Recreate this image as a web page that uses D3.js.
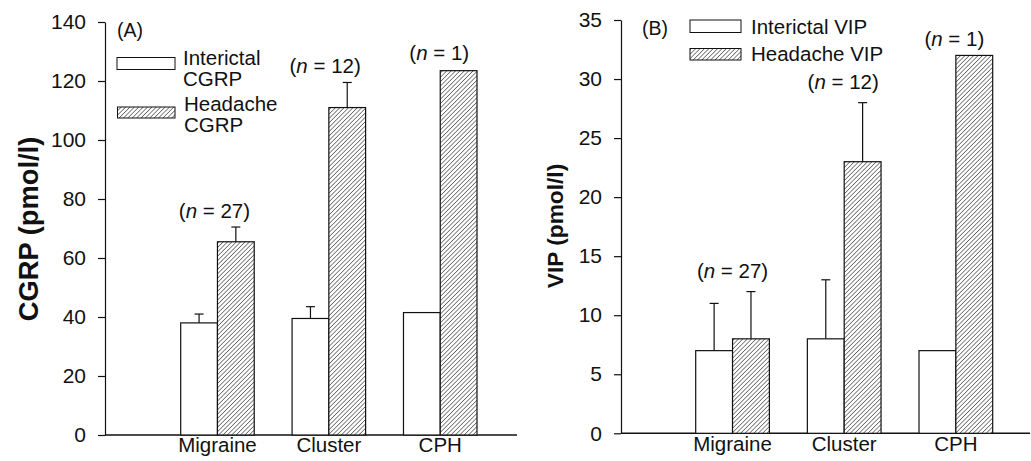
<!DOCTYPE html>
<html>
<head>
<meta charset="utf-8">
<script src="https://cdn.jsdelivr.net/npm/d3@7"></script>
<style>
  body { margin: 0; background: #fff; }
  svg { font-family: 'Liberation Sans', Arial, sans-serif; }
</style>
</head>
<body>
<svg id="chart" width="1031" height="461"></svg>
<script>
const categories = ['Migraine', 'Cluster', 'CPH']
const nLabels = ['27', '12', '1']

// panel A - CGRP
const cgrpInterictal = [38, 39.5, 41.5]
const cgrpInterictalTop = [41, 43.5, null]
const cgrpHeadache = [65.5, 111, 123.5]
const cgrpHeadacheTop = [70.5, 119.5, null]
const cgrpTicks = [0, 20, 40, 60, 80, 100, 120, 140]

// panel B - VIP
const vipInterictal = [7, 8, 7]
const vipInterictalTop = [11, 13, null]
const vipHeadache = [8, 23, 32]
const vipHeadacheTop = [12, 28, null]
const vipTicks = [0, 5, 10, 15, 20, 25, 30, 35]

const svg = d3.select('#chart')

// hatch pattern
svg.append('defs').append('pattern')
  .attr('id', 'hatch')
  .attr('patternUnits', 'userSpaceOnUse')
  .attr('width', 3.1).attr('height', 3.1)
  .attr('patternTransform', 'rotate(45)')
  .call(p => {
    p.append('rect').attr('width', 3.1).attr('height', 3.1).attr('fill', '#fff')
    p.append('line').attr('x1', 0).attr('y1', 0).attr('x2', 0).attr('y2', 3.1)
      .attr('stroke', '#222').attr('stroke-width', 1.1)
  })

function drawPanel(opt) {
  const g = svg.append('g').attr('transform', `translate(${opt.left},0)`)

  const y = d3.scaleLinear().domain([0, opt.max]).range([opt.y0, opt.yTop])
  const x = d3.scaleBand().domain(categories)
    .range([opt.barStart, opt.barEnd]).paddingInner(0.34).paddingOuter(0)
  const xs = d3.scaleBand().domain(['inter', 'head']).range([0, x.bandwidth()])

  // y axis
  g.append('g')
    .call(d3.axisLeft(y).tickValues(opt.ticks).tickSize(7).tickSizeOuter(0).tickPadding(12))
    .call(a => a.select('.domain').attr('stroke', '#111').attr('stroke-width', 1.2))
    .call(a => a.selectAll('.tick line').attr('stroke', '#111').attr('stroke-width', 1.2))
    .call(a => a.selectAll('text').attr('font-size', 21).attr('fill', '#111')
      .attr('font-family', "'Liberation Sans', Arial, sans-serif"))

  // x axis line
  g.append('line')
    .attr('x1', 0).attr('x2', opt.xEnd)
    .attr('y1', y(0)).attr('y2', y(0))
    .attr('stroke', '#111').attr('stroke-width', 1.4)

  const series = [
    { key: 'inter', vals: opt.inter, tops: opt.interTop, fill: '#fff' },
    { key: 'head', vals: opt.head, tops: opt.headTop, fill: 'url(#hatch)' }
  ]

  series.forEach(s => {
    categories.forEach((c, i) => {
      const bx = x(c) + xs(s.key)
      const w = xs.bandwidth()
      if (s.tops[i] != null) {
        const cx = bx + w / 2
        g.append('line').attr('x1', cx).attr('x2', cx)
          .attr('y1', y(s.vals[i])).attr('y2', y(s.tops[i]))
          .attr('stroke', '#111').attr('stroke-width', 1.2)
        g.append('line').attr('x1', cx - 4.5).attr('x2', cx + 4.5)
          .attr('y1', y(s.tops[i])).attr('y2', y(s.tops[i]))
          .attr('stroke', '#111').attr('stroke-width', 1.2)
      }
      g.append('rect')
        .attr('x', bx).attr('y', y(s.vals[i]))
        .attr('width', w).attr('height', y(0) - y(s.vals[i]))
        .attr('fill', s.fill)
        .attr('stroke', '#111').attr('stroke-width', 1.2)
    })
  })

  // category labels
  g.selectAll('.cat').data(categories).join('text')
    .attr('x', d => x(d) + x.bandwidth() / 2)
    .attr('y', opt.catY)
    .attr('text-anchor', 'middle')
    .attr('font-size', 20.5).attr('fill', '#111')
    .text(d => d)

  // n labels
  categories.forEach((c, i) => {
    const t = g.append('text')
      .attr('x', x(c) + x.bandwidth() / 2 + opt.nShift[i])
      .attr('y', opt.nY[i])
      .attr('text-anchor', 'middle')
      .attr('font-size', 20.5).attr('fill', '#111')
    t.append('tspan').text('(')
    t.append('tspan').attr('font-style', 'italic').text('n')
    t.append('tspan').text(` = ${nLabels[i]})`)
  })

  // panel letter
  g.append('text').attr('x', opt.letterX).attr('y', opt.letterY)
    .attr('dy', '0.35em').attr('font-size', 19.5).attr('fill', '#111')
    .text(opt.letter)

  // y label
  g.append('text')
    .attr('transform', `translate(${opt.labelX},${opt.labelY}) rotate(-90)`)
    .attr('text-anchor', 'middle').attr('dy', '0.35em')
    .attr('font-size', opt.labelSize).attr('font-weight', 'bold').attr('fill', '#111')
    .text(opt.label)

  // legend
  opt.legend.forEach((l, i) => {
    g.append('rect')
      .attr('x', l.bx).attr('y', l.by).attr('width', l.bw).attr('height', l.bh)
      .attr('fill', i === 0 ? '#fff' : 'url(#hatch)')
      .attr('stroke', '#111').attr('stroke-width', 1)
    const t = g.append('text').attr('x', l.tx).attr('y', l.ty)
      .attr('font-size', 20.5).attr('fill', '#111')
    l.lines.forEach((line, k) => {
      t.append('tspan').attr('x', l.tx).attr('dy', k === 0 ? 0 : 21).text(line)
    })
  })
}

drawPanel({
  left: 105, max: 140, y0: 435, yTop: 22, ticks: cgrpTicks,
  barStart: 75.7, barEnd: 372, xEnd: 412, catY: 452,
  inter: cgrpInterictal, interTop: cgrpInterictalTop,
  head: cgrpHeadache, headTop: cgrpHeadacheTop,
  nShift: [-3, -3.7, -1], nY: [218, 73, 60],
  letter: '(A)', letterX: 12, letterY: 30,
  label: 'CGRP (pmol/l)', labelX: -77, labelY: 229, labelSize: 27.3,
  legend: [
    { bx: 12, by: 57.5, bw: 58, bh: 12, tx: 78, ty: 65, lines: ['Interictal', 'CGRP'] },
    { bx: 12.5, by: 107, bw: 57.5, bh: 11, tx: 79, ty: 111, lines: ['Headache', 'CGRP'] }
  ]
})

drawPanel({
  left: 621, max: 35, y0: 433.3, yTop: 20, ticks: vipTicks,
  barStart: 74.7, barEnd: 371.7, xEnd: 409, catY: 451,
  inter: vipInterictal, interTop: vipInterictalTop,
  head: vipHeadache, headTop: vipHeadacheTop,
  nShift: [0, -1, -1.5], nY: [278, 89, 46],
  letter: '(B)', letterX: 21, letterY: 28,
  label: 'VIP (pmol/l)', labelX: -66, labelY: 226, labelSize: 22.7,
  legend: [
    { bx: 69, by: 20, bw: 51, bh: 12.5, tx: 130, ty: 34, lines: ['Interictal VIP'] },
    { bx: 69, by: 48.5, bw: 51, bh: 11.5, tx: 130, ty: 61, lines: ['Headache VIP'] }
  ]
})
</script>
</body>
</html>
